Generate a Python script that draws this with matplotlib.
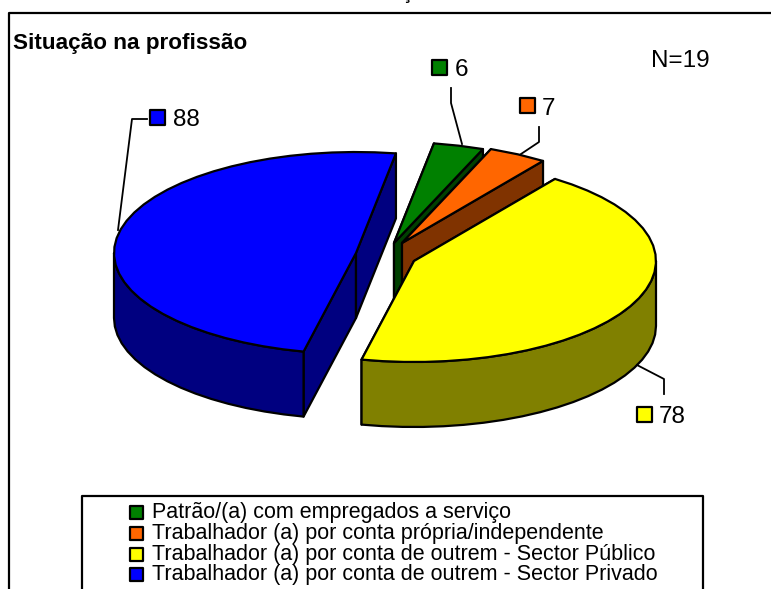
import matplotlib

matplotlib.use("Agg")
import matplotlib.pyplot as plt
import numpy as np
from matplotlib.patches import Polygon, Rectangle

categories = [
    "Patrão/(a) com empregados a serviço",
    "Trabalhador (a) por conta própria/independente",
    "Trabalhador (a) por conta de outrem - Sector Público",
    "Trabalhador (a) por conta de outrem - Sector Privado",
]
values = [6, 7, 78, 88]
top_colors = ["#008000", "#FF6600", "#FFFF00", "#0000FF"]
side_colors = ["#004000", "#803300", "#808000", "#000080"]

# pixel layout of the figure, one exploded centre per slice
centers = [(394, 243), (402, 243), (414, 261), (356, 253)]
RX, RY, DEPTH = 242, 101, 65
START_ANGLE = 9.5
swatches = [(432, 60), (520, 98), (637, 407), (150, 110)]
label_pos = [(455, 70), (542, 109), (659, 417), (173, 120)]
leaders = [
    [(451, 88), (451, 103), (462, 144)],
    [(539, 127), (539, 142), (521, 154)],
    [(664, 394), (664, 379), (637, 365)],
    [(147, 119), (132, 119), (118, 230)],
]
legend_y = [506, 527, 548, 568]

plt.rcParams["font.family"] = ["Liberation Sans", "DejaVu Sans"]
LINE = dict(edgecolor="black", linewidth=1.6, joinstyle="round")


def rim(center, angles):
    """Points of the slice rim for angles measured clockwise from the top."""
    rad = np.radians(angles)
    return np.column_stack(
        (center[0] + RX * np.sin(rad), center[1] - RY * np.cos(rad))
    )


def draw_slice(ax, center, a0, a1, top, side):
    """Paint radial faces, outer wall and top of one slice, back to front."""
    drop = np.array([0, DEPTH])
    apex = np.array(center, dtype=float)
    angles = np.linspace(a0, a1, max(int((a1 - a0) / 5), 2) + 1)
    arc = rim(center, angles)

    for point in (arc[0], arc[-1]):
        face = [apex, point, point + drop, apex + drop]
        ax.add_patch(Polygon(face, closed=True, facecolor=side, **LINE))

    # the wall only shows on the half of the rim that faces the viewer
    wall_from = max(a0, 90)
    wall_to = min(a1, 270)
    if wall_from < wall_to:
        wall_angles = np.linspace(wall_from, wall_to, int((wall_to - wall_from) / 5) + 2)
        wall = rim(center, wall_angles)
        points = np.vstack((wall, (wall + drop)[::-1]))
        ax.add_patch(Polygon(points, closed=True, facecolor=side, **LINE))

    points = np.vstack((apex, arc))
    ax.add_patch(Polygon(points, closed=True, facecolor=top, **LINE))


fig = plt.figure(figsize=(7.71, 5.89), dpi=100)
ax = fig.add_axes([0, 0, 1, 1])
ax.set_xlim(0, 771)
ax.set_ylim(589, 0)
ax.axis("off")

# frame of the chart, its right and bottom edges fall off the picture
ax.plot([9, 9, 771], [589, 12.5, 12.5], color="black", linewidth=1.6)
ax.text(406, -1, "ç", fontsize=15, ha="center", va="baseline", clip_on=False)

ax.text(13, 43, "Situação na profissão", fontsize=16.2, fontweight="bold", va="center")
ax.text(651, 61, "N=19", fontsize=17.5, va="center")

spans = np.array(values) / sum(values) * 360
starts = START_ANGLE + np.concatenate(([0], np.cumsum(spans)[:-1]))
for i in range(len(values)):
    draw_slice(ax, centers[i], starts[i], starts[i] + spans[i], top_colors[i], side_colors[i])

for i, value in enumerate(values):
    xs, ys = zip(*leaders[i])
    ax.plot(xs, ys, color="black", linewidth=1.3)
    ax.add_patch(Rectangle(swatches[i], 15, 15, facecolor=top_colors[i], **LINE))
    ax.text(label_pos[i][0], label_pos[i][1], str(value), fontsize=17.5, va="center")

ax.add_patch(Rectangle((82, 496), 621, 110, facecolor="white", **LINE))
for i, name in enumerate(categories):
    ax.add_patch(Rectangle((130, legend_y[i]), 13, 13, facecolor=top_colors[i], **LINE))
    ax.text(152, legend_y[i] + 6.5, name, fontsize=15.5, va="center")

fig.savefig("out.png", dpi=100)
